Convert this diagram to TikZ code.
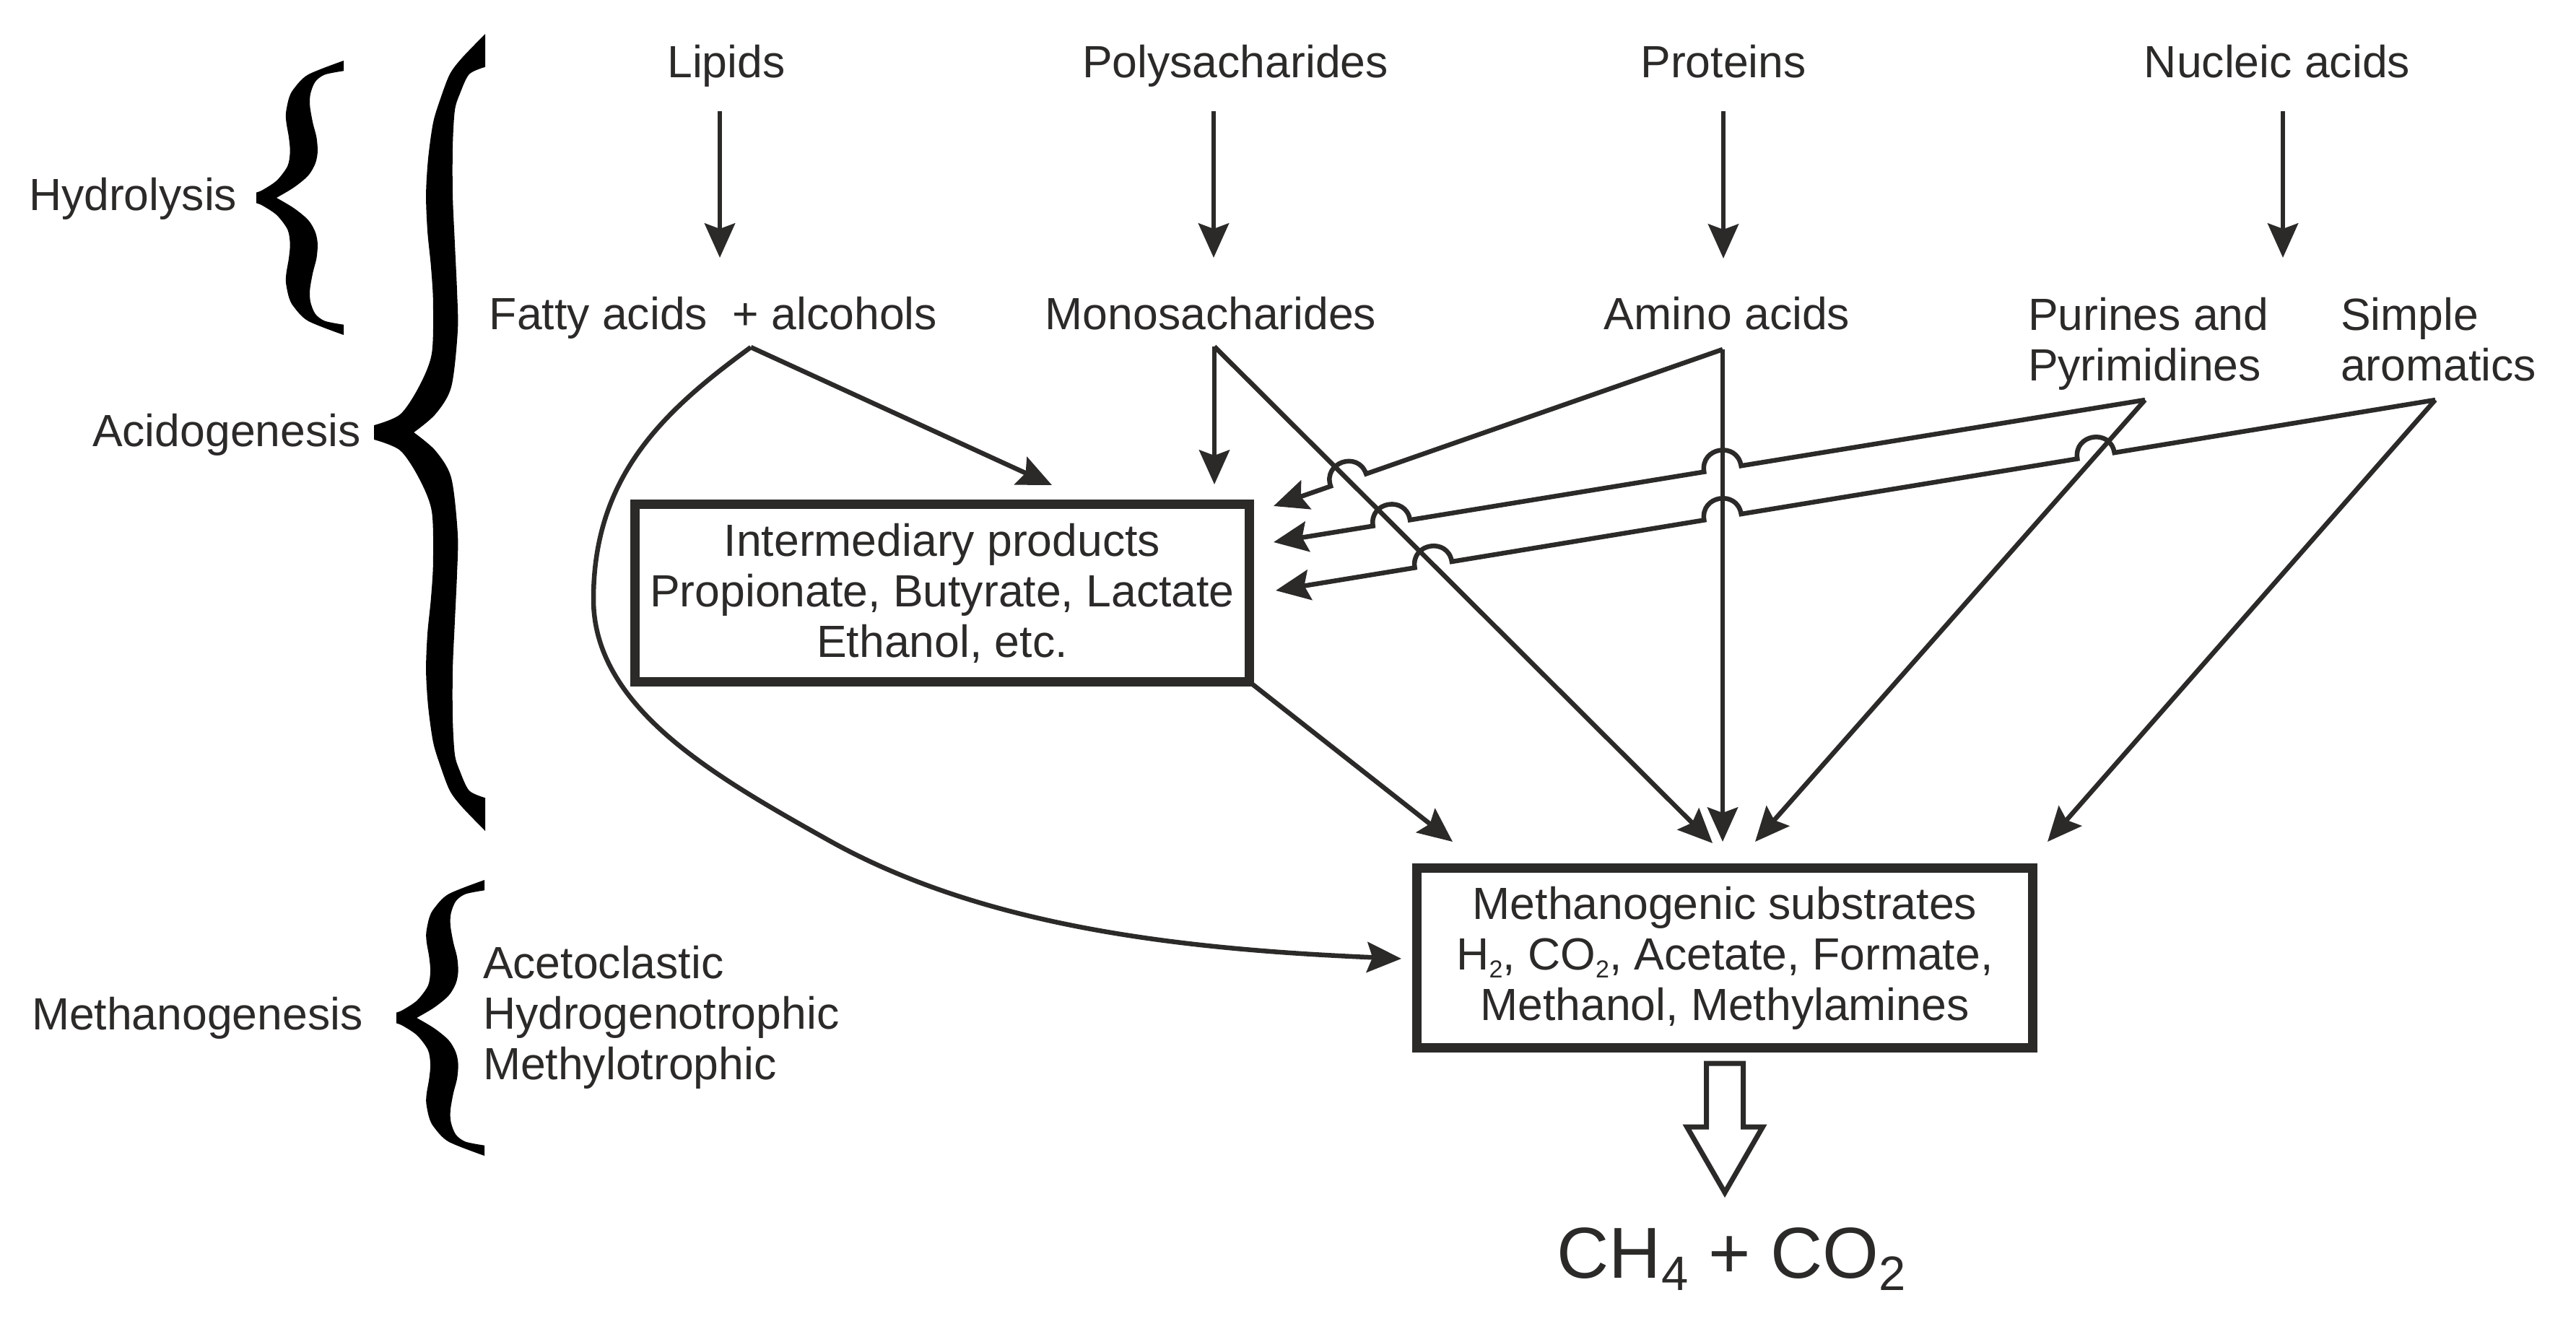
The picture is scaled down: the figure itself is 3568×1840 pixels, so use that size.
\documentclass[tikz,border=0pt]{standalone}
\usepackage{fontspec}
\setmainfont{Liberation Sans}
\usetikzlibrary{arrows.meta,calc}
\definecolor{ink}{HTML}{2B2A29}
\newcommand{\jmpr}{5.2pt}
\newcommand{\jmph}{6.93pt}
\newcommand{\jumpat}[3]{%
  \coordinate (#1a) at ($(#1)!\jmpr!(#2)$);
  \coordinate (#1b) at ($(#1)!\jmpr!(#3)$);
  \coordinate (#1c) at ($(#1a)!\jmph!-90:(#1)$);
  \coordinate (#1d) at ($(#1b)!\jmph!90:(#1)$);
}
\newcommand{\sbs}[3]{\raisebox{-#3}{\fontsize{#2}{#2}\selectfont #1}}
\newcommand{\smallhalfbrace}{\fill[black] plot[smooth, tension=0.5] coordinates {(1,-1) (0.593,-0.898) (0.427,-0.793) (0.372,-0.723) (0.339,-0.618) (0.344,-0.547) (0.372,-0.442) (0.386,-0.337) (0.358,-0.232) (0.234,-0.126) (0.069,-0.056) (0,-0.039)} -- (0,0.004) -- plot[smooth, tension=0.5] coordinates {(0.22,0.004) (0.427,-0.074) (0.593,-0.161) (0.675,-0.249) (0.702,-0.337) (0.689,-0.442) (0.647,-0.547) (0.614,-0.670) (0.620,-0.758) (0.675,-0.846) (0.785,-0.898) (1,-0.925)} -- cycle;}
\newcommand{\bighalfbrace}{\fill[black] plot[smooth, tension=0.5] coordinates {(1,-1) (0.792,-0.94) (0.682,-0.899) (0.597,-0.837) (0.532,-0.777) (0.487,-0.687) (0.468,-0.596) (0.481,-0.505) (0.513,-0.415) (0.532,-0.324) (0.519,-0.197) (0.403,-0.114) (0.234,-0.045) (0,-0.018)} -- (0,0.003) -- plot[smooth, tension=0.5] coordinates {(0.344,0.003) (0.55,-0.045) (0.695,-0.114) (0.753,-0.254) (0.747,-0.355) (0.727,-0.475) (0.708,-0.596) (0.708,-0.717) (0.727,-0.808) (0.773,-0.85) (0.857,-0.899) (1,-0.917)} -- cycle;}
\begin{document}
\begin{tikzpicture}[x=0.2pt,y=-0.2pt,
  every node/.style={inner sep=0pt, outer sep=0pt, text=ink, font=\fontsize{12.5}{14}\selectfont},
  lbl/.style={anchor=base},
  lblw/.style={anchor=base west, align=left},
  box/.style={draw=ink, line width=2.6pt, align=center},
  arr/.style={draw=ink, line width=1.3pt, line join=miter, -{Stealth[length=9.5pt,width=8.4pt,inset=1.5pt]}},
]
\useasboundingbox (0,0) rectangle (3568,1840);

% labels (multi-line nodes: base = last line)
\node[lbl] (lip) at (1006,107) {Lipids};
\node[lbl] (pol) at (1711,107) {Polysacharides};
\node[lbl] (pro) at (2387,107) {Proteins};
\node[lbl] (nuc) at (3154,107) {Nucleic acids};
\node[lbl] (fat) at (988,456) {Fatty acids~ + alcohols};
\node[lbl] (mon) at (1677,456) {Monosacharides};
\node[lbl] (ami) at (2392,456) {Amino acids};
\node[lblw] (pur) at (2809,527) {Purines and\\Pyrimidines};
\node[lblw] (sim) at (3242,527) {Simple\\aromatics};
\node[lblw] (hyd) at (40,291) {Hydrolysis};
\node[lblw] (aci) at (128,618) {Acidogenesis};
\node[lblw] (met) at (44,1426) {Methanogenesis};
\node[lblw] (typ) at (669,1495) {Acetoclastic\\Hydrogenotrophic\\Methylotrophic};

% boxes
\node[box, minimum width=170.2pt, minimum height=49.2pt] (int) at (1305,821.5)
  {Intermediary products\\Propionate, Butyrate, Lactate\\Ethanol, etc.};
\node[box, minimum width=170.6pt, minimum height=49.8pt] (ms) at (2389,1327)
  {Methanogenic substrates\\H\sbs{2}{6.8}{2.2pt}, CO\sbs{2}{6.8}{2.2pt}, Acetate, Formate,\\Methanol, Methylamines};
\node[lbl, font=\fontsize{20}{24}\selectfont] (ch) at (2398,1770)
  {CH\sbs{4}{13.4}{3.5pt} + CO\sbs{2}{13.4}{3.5pt}};

% braces
\begin{scope}[shift={(355,274)}, xscale=121, yscale=190]
  \smallhalfbrace
  \begin{scope}[yscale=-1]\smallhalfbrace\end{scope}
\end{scope}
\begin{scope}[shift={(549,1410)}, xscale=122, yscale=191]
  \smallhalfbrace
  \begin{scope}[yscale=-1]\smallhalfbrace\end{scope}
\end{scope}
\begin{scope}[shift={(518,599)}, xscale=154, yscale=552]
  \bighalfbrace
  \begin{scope}[yscale=-1]\bighalfbrace\end{scope}
\end{scope}

% hydrolysis arrows
\coordinate (h1s) at (997,154);  \coordinate (h1e) at (997,357);
\coordinate (h2s) at (1681,154); \coordinate (h2e) at (1681,357);
\coordinate (h3s) at (2387,154); \coordinate (h3e) at (2387,358);
\coordinate (h4s) at (3162,154); \coordinate (h4e) at (3162,357);
\draw[arr] (h1s) -- (h1e);
\draw[arr] (h2s) -- (h2e);
\draw[arr] (h3s) -- (h3e);
\draw[arr] (h4s) -- (h4e);

% forks and tips
\coordinate (ff) at (1040,481);
\coordinate (mf) at (1682,480);
\coordinate (af) at (2386,484);
\coordinate (pf) at (2971,554);
\coordinate (sf) at (3373,554);
\coordinate (t0) at (1457,672);
\coordinate (tm) at (1682,671);
\coordinate (t1) at (1764,701);
\coordinate (t2) at (1764,751);
\coordinate (t3) at (1767,818);
\coordinate (um) at (2372,1168);
\coordinate (ua) at (2386,1166);
\coordinate (up) at (2431,1166);
\coordinate (us) at (2836,1166);
\coordinate (ui) at (2012,1166);
\coordinate (uc) at (1941,1328);

% jumps
\coordinate (j1) at (intersection of af--t1 and mf--um);
\jumpat{j1}{af}{t1}
\coordinate (j2) at (intersection of pf--t2 and af--ua);
\jumpat{j2}{pf}{t2}
\coordinate (j3) at (intersection of pf--t2 and mf--um);
\jumpat{j3}{pf}{t2}
\coordinate (j4) at (intersection of sf--t3 and pf--up);
\jumpat{j4}{sf}{t3}
\coordinate (j5) at (intersection of sf--t3 and af--ua);
\jumpat{j5}{sf}{t3}
\coordinate (j6) at (intersection of sf--t3 and mf--um);
\jumpat{j6}{sf}{t3}

% acidogenesis connectors
\draw[arr] (ff) -- (t0);
\draw[arr] (mf) -- (tm);
\draw[arr] (mf) -- (um);
\draw[arr] (af) -- (ua);
\draw[arr] (pf) -- (up);
\draw[arr] (sf) -- (us);
\draw[arr] (af) -- (j1a) .. controls (j1c) and (j1d) .. (j1b) -- (t1);
\draw[arr] (pf) -- (j2a) .. controls (j2c) and (j2d) .. (j2b)
  -- (j3a) .. controls (j3c) and (j3d) .. (j3b) -- (t2);
\draw[arr] (sf) -- (j4a) .. controls (j4c) and (j4d) .. (j4b)
  -- (j5a) .. controls (j5c) and (j5d) .. (j5b)
  -- (j6a) .. controls (j6c) and (j6d) .. (j6b) -- (t3);
\draw[arr] (int.south east) -- (ui);
\draw[arr] (ff) .. controls (918.5,569.5) and (822,660) .. (822,830)
  .. controls (822,980) and (989,1075) .. (1146,1163)
  .. controls (1363.5,1285.5) and (1641,1315) .. (uc);

% hollow arrow
\coordinate (ha) at ($(ms.south)+(0,21.5)$);
\draw[draw=ink, line width=1.4pt, fill=white, line join=miter]
  ($(ha)+(-25.5,0)$) -- ++(51,0) -- ++(0,88) -- ++(27,0) -- ++(-52.5,91)
  -- ++(-52.5,-91) -- ++(27,0) -- cycle;
\end{tikzpicture}
\end{document}
